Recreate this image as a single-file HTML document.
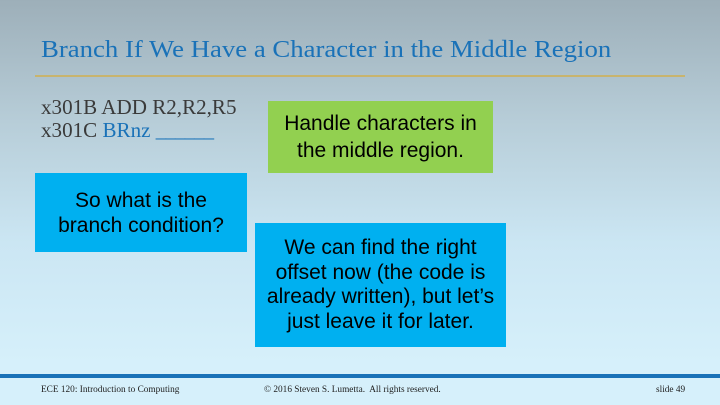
<!DOCTYPE html>
<html><head><meta charset="utf-8"><style>
body{margin:0}
#s{position:relative;width:720px;height:405px;overflow:hidden;background:linear-gradient(#9dafb9 0%,#b7cdd8 30%,#cbe6f3 60%,#d6f0fb 90%);font-family:"Liberation Serif",serif}
.t{position:absolute;white-space:nowrap}
.box{position:absolute;font-family:"Liberation Sans",sans-serif;font-size:21px;line-height:25px;color:#000;text-align:center;display:flex;align-items:center;justify-content:center}
</style></head><body>
<div id="s">
<div class="t" style="left:41px;top:37px;font-size:24px;color:#1a72b8;transform:scaleX(1.115);transform-origin:left">Branch If We Have a Character in the Middle Region</div>
<div style="position:absolute;left:35px;top:75px;width:650px;height:2px;background:#c8b46e"></div>
<div class="t" style="left:41px;top:95px;font-size:21.5px;color:#3a3a3a;transform:scaleX(0.98);transform-origin:left">x301B ADD R2,R2,R5</div>
<div class="t" style="left:41px;top:118px;font-size:21.5px;color:#3a3a3a;transform:scaleX(0.98);transform-origin:left">x301C <span style="color:#1a72b8">BRnz <span style="letter-spacing:-1px">______</span></span></div>
<div class="box" style="left:268px;top:101px;width:225px;height:72px;background:#92d050;line-height:27px">Handle characters in<br>the middle region.</div>
<div class="box" style="left:35px;top:173px;width:212px;height:79px;background:#00b0f0">So what is the<br>branch condition?</div>
<div class="box" style="left:255px;top:223px;width:251px;height:124px;background:#00b0f0;line-height:24.5px">We can find the right<br>offset now (the code is<br>already written), but let’s<br>just leave it for later.</div>
<div style="position:absolute;left:0;top:374px;width:720px;height:4px;background:#1a72b8"></div>
<div class="t" style="left:41px;top:385px;font-size:9.3px;color:#222">ECE 120: Introduction to Computing</div>
<div class="t" style="left:264px;top:385px;font-size:9.3px;color:#222">© 2016 Steven S. Lumetta.&nbsp; All rights reserved.</div>
<div class="t" style="left:656px;top:385px;font-size:9.3px;color:#222">slide 49</div>
</div>
</body></html>
